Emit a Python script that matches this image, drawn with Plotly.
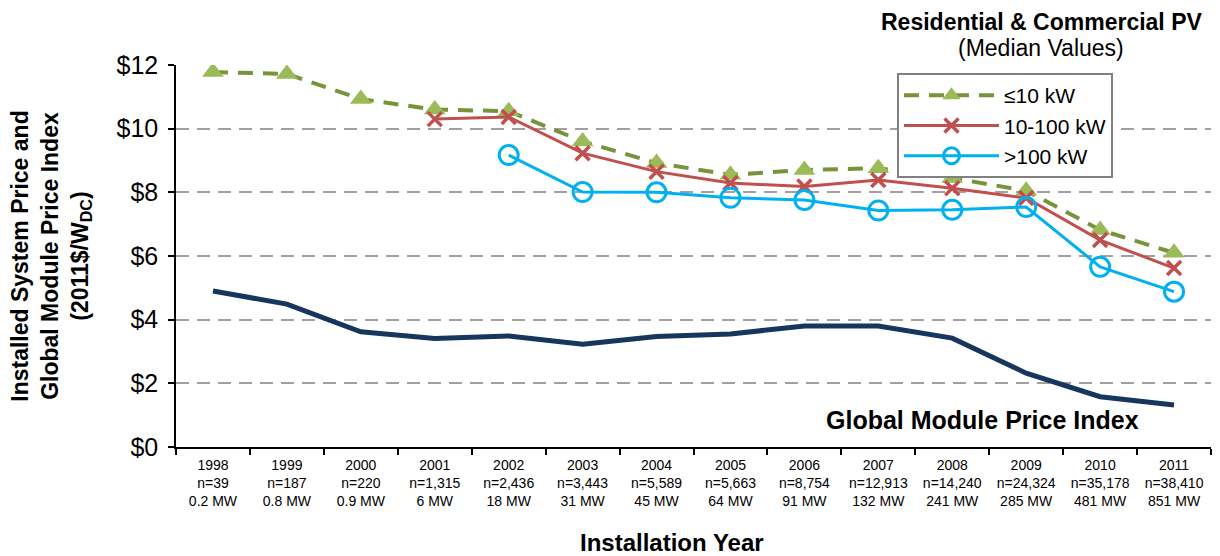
import plotly.graph_objects as go

years = ["1998", "1999", "2000", "2001", "2002", "2003", "2004", "2005", "2006", "2007", "2008", "2009", "2010", "2011"]
n_systems = ["39", "187", "220", "1,315", "2,436", "3,443", "5,589", "5,663", "8,754", "12,913", "14,240", "24,324", "35,178", "38,410"]
capacity_mw = ["0.2", "0.8", "0.9", "6", "18", "31", "45", "64", "91", "132", "241", "285", "481", "851"]

le10 = [11.78, 11.72, 10.93, 10.6, 10.55, 9.6, 8.92, 8.55, 8.7, 8.76, 8.45, 8.05, 6.82, 6.1]
kw10_100 = [None, None, None, 10.3, 10.37, 9.23, 8.65, 8.29, 8.18, 8.39, 8.13, 7.82, 6.5, 5.62]
gt100 = [None, None, None, None, 9.17, 8.01, 8.0, 7.83, 7.76, 7.43, 7.45, 7.54, 5.66, 4.88]
module_index = [4.9, 4.49, 3.62, 3.41, 3.49, 3.23, 3.47, 3.55, 3.8, 3.8, 3.42, 2.32, 1.58, 1.32]

y_ticks = [0, 2, 4, 6, 8, 10, 12]
y_ticktext = ["$0", "$2", "$4", "$6", "$8", "$10", "$12"]

FONT = "Liberation Sans, Arial, sans-serif"

fig = go.Figure()

fig.add_trace(go.Scatter(
    x=years, y=module_index, mode="lines", name="Global Module Price Index",
    line=dict(color="#17365D", width=5), showlegend=False))

fig.add_trace(go.Scatter(
    x=years, y=le10, mode="lines+markers", name="≤10 kW",
    line=dict(color="#77933C", width=4, dash="15px,10px"),
    marker=dict(symbol="triangle-up", size=19, color="#9BBB59", line=dict(width=0))))

fig.add_trace(go.Scatter(
    x=years, y=kw10_100, mode="lines+markers", name="10-100 kW",
    line=dict(color="#C0504D", width=3),
    marker=dict(symbol="x-thin", size=14, color="#C0504D", line=dict(width=3.5, color="#C0504D"))))

fig.add_trace(go.Scatter(
    x=years, y=gt100, mode="lines+markers", name=">100 kW",
    line=dict(color="#00B0F0", width=3),
    marker=dict(symbol="circle-open", size=19, color="#00B0F0", line=dict(width=3, color="#00B0F0"))))

ticktext = [f"{y}<br>n={n}<br>{c} MW" for y, n, c in zip(years, n_systems, capacity_mw)]

fig.update_layout(
    width=1212, height=548,
    margin=dict(l=168, r=9, t=57, b=109),
    paper_bgcolor="white", plot_bgcolor="white",
    font=dict(family=FONT, color="black"),
    legend=dict(
        x=0.6966, y=0.979, xanchor="left", yanchor="top",
        bgcolor="white", bordercolor="#808080", borderwidth=2,
        font=dict(size=21, family=FONT), itemwidth=95,
        tracegroupgap=0, traceorder="normal"),
    xaxis=dict(
        type="category", tickmode="array", tickvals=years, ticktext=ticktext,
        tickson="boundaries", ticks="outside", ticklen=6, tickcolor="black", tickwidth=1.5,
        showline=True, linecolor="black", linewidth=1.5, ticklabelstandoff=4,
        showgrid=False, tickfont=dict(size=14, family=FONT), tickangle=0,
        range=[-0.5, 13.5]),
    yaxis=dict(
        range=[0, 12], tickmode="array", tickvals=y_ticks, ticktext=y_ticktext,
        ticks="outside", ticklen=6, tickcolor="black", tickwidth=1.5, ticklabelstandoff=5,
        showline=True, linecolor="black", linewidth=1.5,
        showgrid=True, gridcolor="#A0A0A0", gridwidth=1.5, griddash="13px,8px",
        zeroline=False, tickfont=dict(size=25, family=FONT)),
    shapes=[dict(type="rect", xref="paper", yref="paper", x0=0.6425, x1=1.0, y0=0.975, y1=1.01,
                 fillcolor="white", line=dict(width=0), layer="between")],
    annotations=[
        dict(text="<b>Residential &amp; Commercial PV</b>", xref="paper", yref="paper",
             x=0.836, y=1.112, xanchor="center", yanchor="middle", showarrow=False,
             font=dict(size=23, family=FONT)),
        dict(text="(Median Values)", xref="paper", yref="paper",
             x=0.836, y=1.044, xanchor="center", yanchor="middle", showarrow=False,
             font=dict(size=23, family=FONT)),
        dict(text="<b>Global Module Price Index</b>", xref="paper", yref="paper",
             x=0.779, y=0.07, xanchor="center", yanchor="middle", showarrow=False,
             font=dict(size=25, family=FONT)),
        dict(text="<b>Installation Year</b>", xref="paper", yref="paper",
             x=0.479, y=-0.251, xanchor="center", yanchor="middle", showarrow=False,
             font=dict(size=24, family=FONT)),
        dict(text="<b>Installed System Price and<br>Global Module Price Index<br>(2011$/W<sub>DC</sub>)</b>",
             xref="paper", yref="paper", x=-0.121, y=0.5, xanchor="center", yanchor="middle",
             showarrow=False, textangle=-90, font=dict(size=23, family=FONT)),
    ],
)

fig.write_html("out.html")
